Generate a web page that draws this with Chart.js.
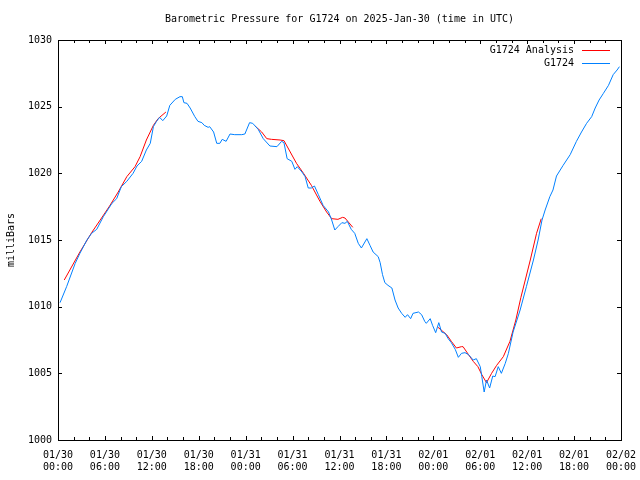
<!DOCTYPE html>
<html>
<head>
<meta charset="utf-8">
<script src="https://cdn.jsdelivr.net/npm/chart.js@4"></script>
<style>
  body { margin: 0; background: #fff; }
  canvas { display: block; }
</style>
</head>
<body>
<canvas id="chart" width="640" height="480"></canvas>
<script>
// hours since 2025-01-30 00:00 UTC, pressure in millibars
const obsHours = [0.26, 1.1, 2.2, 2.8, 3.7, 4.3, 4.95, 5.8, 6.9, 7.5, 8.1, 8.8, 9.6, 10.1, 10.7, 11.3, 11.8, 12.2, 12.6, 13.0,
  13.4, 13.9, 14.3, 15.0, 15.6, 15.9, 16.1, 16.5, 16.9, 17.5, 17.9, 18.4, 18.7, 19.2, 19.4, 19.9, 20.3, 20.7, 21.0, 21.5,
  22.0, 22.6, 23.5, 23.9, 24.5, 24.9, 25.6, 26.25, 27.1, 28.0, 28.6, 28.9, 29.3, 29.9, 30.3, 30.6, 31.2, 31.6, 32.0, 32.4,
  32.8, 33.3, 33.9, 34.6, 35.0, 35.4, 35.8, 36.3, 36.7, 37.0, 37.5, 37.95, 38.4, 38.8, 39.5, 39.9, 40.3, 40.95, 41.2, 41.5,
  41.8, 42.2, 42.7, 43.1, 43.5, 43.95, 44.4, 44.7, 45.1, 45.4, 46.1, 46.5, 46.9, 47.1, 47.6, 47.9, 48.3, 48.7, 49.05, 49.5,
  49.9, 50.3, 50.8, 51.2, 51.6, 52.05, 52.5, 53.1, 53.5, 54.0, 54.2, 54.5, 54.8, 55.2, 55.6, 55.9, 56.3, 56.7, 57.2, 57.6,
  58.2, 59.1, 59.9, 60.8, 61.4, 61.9, 62.3, 62.9, 63.3, 63.75, 64.6, 65.5, 66.3, 66.95, 67.6, 68.25, 68.7, 69.2, 69.75, 70.4,
  71.0, 71.5, 71.8];
const obsPressure = [1010.3, 1011.5, 1013.25, 1014.0, 1015.0, 1015.5, 1015.8, 1016.75, 1017.75, 1018.1, 1019.0, 1019.4, 1020.0, 1020.55, 1020.9, 1021.75, 1022.25, 1023.5, 1023.9, 1024.2,
  1023.95, 1024.3, 1025.1, 1025.55, 1025.75, 1025.75, 1025.3, 1025.25, 1024.9, 1024.25, 1023.9, 1023.8, 1023.6, 1023.45, 1023.5, 1023.1, 1022.25, 1022.25, 1022.55, 1022.4,
  1022.95, 1022.9, 1022.9, 1022.95, 1023.8, 1023.75, 1023.3, 1022.6, 1022.05, 1022.0, 1022.4, 1022.3, 1021.1, 1020.9, 1020.3, 1020.5, 1020.1, 1019.75, 1018.9, 1018.9,
  1019.05, 1018.4, 1017.6, 1017.1, 1016.5, 1015.75, 1016.0, 1016.3, 1016.25, 1016.4, 1015.8, 1015.5, 1014.75, 1014.4, 1015.1, 1014.6, 1014.1, 1013.75, 1013.3, 1012.4,
  1011.8, 1011.6, 1011.4, 1010.5, 1009.9, 1009.5, 1009.2, 1009.4, 1009.1, 1009.5, 1009.6, 1009.4, 1008.9, 1008.75, 1009.1, 1008.6, 1008.05, 1008.8, 1008.1, 1008.0,
  1007.6, 1007.3, 1006.8, 1006.2, 1006.5, 1006.55, 1006.4, 1006.0, 1006.1, 1005.5, 1004.75, 1003.6, 1004.5, 1003.9, 1004.8, 1004.75, 1005.5, 1005.0, 1005.75, 1006.5,
  1008.1, 1009.75, 1011.5, 1013.5, 1015.0, 1016.5, 1017.25, 1018.25, 1018.75, 1019.8, 1020.6, 1021.4, 1022.4, 1023.1, 1023.75, 1024.25, 1024.9, 1025.5, 1026.0, 1026.6,
  1027.4, 1027.75, 1028.0];

// analysis series has gaps (null)
const anaHours = [0.8, 2.8, 4.3, 5.4, 6.6, 7.7, 8.8, 9.85, 10.5, 11.3, 12.2, 12.8, 13.8,
  19,
  25.2, 26.05, 26.7, 27.3, 28.4, 28.9, 29.7, 30.5, 31.4, 32.4, 33.5, 34.35, 35.0, 35.8, 36.4, 36.7, 37.7,
  43,
  48.6, 49.7, 50.3, 50.95, 51.6, 51.8, 52.5, 53.1, 53.7, 54.2, 54.8, 55.45, 56.1, 56.95, 57.8, 58.55, 59.2, 60.4, 61.2, 61.8];
const anaPressure = [1012.0, 1014.1, 1015.55, 1016.5, 1017.55, 1018.6, 1019.75, 1020.5, 1021.25, 1022.5, 1023.6, 1024.1, 1024.6,
  null,
  1023.55, 1023.1, 1022.6, 1022.55, 1022.5, 1022.45, 1021.6, 1020.75, 1020.0, 1019.1, 1017.9, 1017.1, 1016.6, 1016.55, 1016.7, 1016.65, 1015.95,
  null,
  1008.45, 1007.9, 1007.4, 1006.9, 1007.0, 1007.0, 1006.4, 1005.9, 1005.5, 1004.9, 1004.3, 1005.0, 1005.6, 1006.25, 1007.4, 1009.0, 1010.7, 1013.5, 1015.5, 1016.6];

const xTickLabels = [
  ["01/30", "00:00"], ["01/30", "06:00"], ["01/30", "12:00"], ["01/30", "18:00"],
  ["01/31", "00:00"], ["01/31", "06:00"], ["01/31", "12:00"], ["01/31", "18:00"],
  ["02/01", "00:00"], ["02/01", "06:00"], ["02/01", "12:00"], ["02/01", "18:00"],
  ["02/02", "00:00"]
];
const yTicks = [1000, 1005, 1010, 1015, 1020, 1025, 1030];

const titleText = "Barometric Pressure for G1724 on 2025-Jan-30 (time in UTC)";
const FONT = "10px 'DejaVu Sans Mono', monospace";

const toPoints = (xs, ys) => xs.map((x, i) => ({ x: x, y: ys[i] }));

// gnuplot-like frame, inward ticks, labels and legend
const framePlugin = {
  id: "frame",
  afterDraw(chart) {
    const ctx = chart.ctx;
    const a = chart.chartArea;
    const xs = chart.scales.x;
    const ys = chart.scales.y;
    ctx.save();
    ctx.strokeStyle = "#000";
    ctx.lineWidth = 1;
    ctx.strokeRect(Math.round(a.left) + 0.5, Math.round(a.top) + 0.5,
      Math.round(a.right - a.left), Math.round(a.bottom - a.top));

    ctx.beginPath();
    for (let h = 0; h <= 72; h += 2) {
      const px = Math.round(xs.getPixelForValue(h)) + 0.5;
      const len = h % 6 === 0 ? 4 : 3;
      ctx.moveTo(px, a.bottom); ctx.lineTo(px, a.bottom - len);
      ctx.moveTo(px, a.top); ctx.lineTo(px, a.top + len);
    }
    yTicks.forEach(v => {
      const py = Math.round(ys.getPixelForValue(v)) + 0.5;
      ctx.moveTo(a.left, py); ctx.lineTo(a.left + 4, py);
      ctx.moveTo(a.right, py); ctx.lineTo(a.right - 4, py);
    });
    ctx.stroke();

    ctx.fillStyle = "#000";
    ctx.font = FONT;
    ctx.textBaseline = "middle";

    ctx.textAlign = "center";
    ctx.fillText(titleText, (a.left + a.right) / 2, 19);
    xTickLabels.forEach((lab, i) => {
      const px = xs.getPixelForValue(i * 6);
      ctx.fillText(lab[0], px, 455);
      ctx.fillText(lab[1], px, 467);
    });

    ctx.textAlign = "right";
    yTicks.forEach(v => {
      ctx.fillText(String(v), 52, ys.getPixelForValue(v));
    });

    ctx.save();
    ctx.translate(11, 240);
    ctx.rotate(-Math.PI / 2);
    ctx.textAlign = "center";
    ctx.fillText("milliBars", 0, 0);
    ctx.restore();

    // legend
    const rows = [["G1724 Analysis", "#ff0000", 50], ["G1724", "#0080ff", 63]];
    rows.forEach(r => {
      ctx.fillStyle = "#000";
      ctx.textAlign = "right";
      ctx.fillText(r[0], 574, r[2]);
      ctx.strokeStyle = r[1];
      ctx.beginPath();
      ctx.moveTo(582, r[2] + 0.5);
      ctx.lineTo(610, r[2] + 0.5);
      ctx.stroke();
    });
    ctx.restore();
  }
};

new Chart(document.getElementById("chart").getContext("2d"), {
  type: "line",
  data: {
    datasets: [
      {
        label: "G1724",
        data: toPoints(obsHours, obsPressure),
        borderColor: "#0080ff",
        borderWidth: 1,
        pointRadius: 0,
        tension: 0
      },
      {
        label: "G1724 Analysis",
        data: toPoints(anaHours, anaPressure),
        borderColor: "#ff0000",
        borderWidth: 1,
        pointRadius: 0,
        tension: 0,
        spanGaps: false
      }
    ]
  },
  options: {
    responsive: false,
    animation: false,
    layout: { padding: { left: 58, right: 19, top: 40, bottom: 40 } },
    plugins: {
      legend: { display: false },
      tooltip: { enabled: false }
    },
    scales: {
      x: { type: "linear", min: 0, max: 72, display: false },
      y: { min: 1000, max: 1030, display: false }
    }
  },
  plugins: [framePlugin]
});
</script>
</body>
</html>
